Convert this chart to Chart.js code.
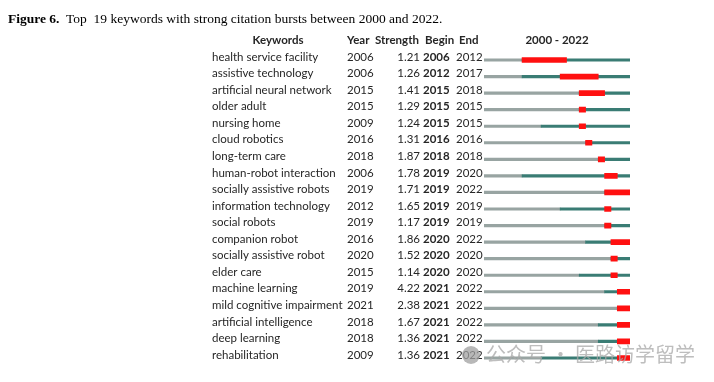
<!DOCTYPE html>
<html>
<head>
<meta charset="utf-8">
<script src="https://cdn.jsdelivr.net/npm/chart.js@4/dist/chart.umd.min.js"></script>
<style>
  html, body { margin:0; padding:0; background:#fff; }
  #wrap { position:relative; width:714px; height:382px; overflow:hidden; }
  #c { position:absolute; left:0; top:0; }
  #title { position:absolute; left:8px; top:11px; font-family:"Liberation Serif","Times New Roman",serif; font-size:13.5px; color:#000; white-space:pre; }
  #wm { position:absolute; left:462px; top:339px; font-family:"Noto Sans CJK SC",sans-serif; font-size:20px; color:#a8a8a8; opacity:0.75; white-space:pre; }
  #wm .ic { display:inline-block; width:18px; height:18px; border-radius:50%; background:#a0a0a0; vertical-align:-2px; margin-right:6px; }
</style>
</head>
<body>
<div id="wrap">
  <canvas id="c" width="714" height="382"></canvas>
  <div id="title"><b>Figure 6.</b>  Top  19 keywords with strong citation bursts between 2000 and 2022.</div>
  <div id="wm"><span class="ic"></span>公众号 · 医路访学留学</div>
</div>
<script>
const keywords = ["health service facility","assistive technology","artificial neural network","older adult","nursing home","cloud robotics","long-term care","human-robot interaction","socially assistive robots","information technology","social robots","companion robot","socially assistive robot","elder care","machine learning","mild cognitive impairment","artificial intelligence","deep learning","rehabilitation"];
const years     = [2006,2006,2015,2015,2009,2016,2018,2006,2019,2012,2019,2016,2020,2015,2019,2021,2018,2018,2009];
const strengths = [1.21,1.26,1.41,1.29,1.24,1.31,1.87,1.78,1.71,1.65,1.17,1.86,1.52,1.14,4.22,2.38,1.67,1.36,1.36];
const begins    = [2006,2012,2015,2015,2015,2016,2018,2019,2019,2019,2019,2020,2020,2020,2021,2021,2021,2021,2021];
const ends      = [2012,2017,2018,2015,2015,2016,2018,2020,2022,2019,2019,2022,2020,2020,2022,2022,2022,2022,2022];
const startYear = 2000;
const endYear = 2022;

const grayData = years.map(y => [startYear, y]);
const tealData = years.map(y => [y, endYear + 1]);
const redData  = begins.map((b, i) => [b, ends[i] + 1]);

const FONT = 'Lato, "Open Sans", sans-serif';

const textPlugin = {
  id: 'columns',
  afterDraw(chart) {
    const ctx = chart.ctx;
    const ys = chart.scales.y;
    const xs = chart.scales.x;
    ctx.save();
    ctx.fillStyle = '#262626';
    ctx.textBaseline = 'middle';
    // headers
    ctx.font = 'bold 11.5px ' + FONT;
    const hy = 40;
    ctx.textAlign = 'center';
    ctx.fillText('Keywords', 278, hy);
    ctx.fillText(startYear + ' - ' + endYear, (xs.left + xs.right) / 2, hy);
    ctx.textAlign = 'left';
    ctx.fillText('Year', 347, hy);
    ctx.fillText('Strength', 375, hy);
    ctx.fillText('Begin', 425, hy);
    ctx.fillText('End', 459, hy);
    keywords.forEach((k, i) => {
      const y = ys.getPixelForValue(i) - 3;
      ctx.font = '11.5px ' + FONT;
      ctx.textAlign = 'left';
      ctx.fillText(k, 212, y);
      ctx.fillText(String(years[i]), 347, y);
      ctx.textAlign = 'right';
      ctx.fillText(strengths[i].toFixed(2), 420, y);
      ctx.textAlign = 'left';
      ctx.font = 'bold 11.5px ' + FONT;
      ctx.fillText(String(begins[i]), 423, y);
      ctx.font = '11.5px ' + FONT;
      ctx.fillText(String(ends[i]), 456, y);
    });
    ctx.restore();
  }
};

new Chart(document.getElementById('c'), {
  type: 'bar',
  data: {
    labels: keywords,
    datasets: [
      { data: grayData, backgroundColor: '#98a4a2', barThickness: 2.5, order: 3 },
      { data: tealData, backgroundColor: '#3a7c74', barThickness: 2.5, order: 2 },
      { data: redData,  backgroundColor: '#ff1010', barThickness: 5, order: 1 }
    ]
  },
  options: {
    indexAxis: 'y',
    responsive: false,
    animation: false,
    devicePixelRatio: 1,
    layout: { padding: { left: 484, right: 84, top: 51.75, bottom: 15.75 } },
    plugins: { legend: { display: false }, tooltip: { enabled: false } },
    scales: {
      x: { type: 'linear', min: startYear, max: endYear + 1, display: false },
      y: { type: 'category', display: false, stacked: true, grid: { display: false } }
    },
    datasets: { bar: { grouped: false } }
  },
  plugins: [textPlugin]
});
</script>
</body>
</html>
